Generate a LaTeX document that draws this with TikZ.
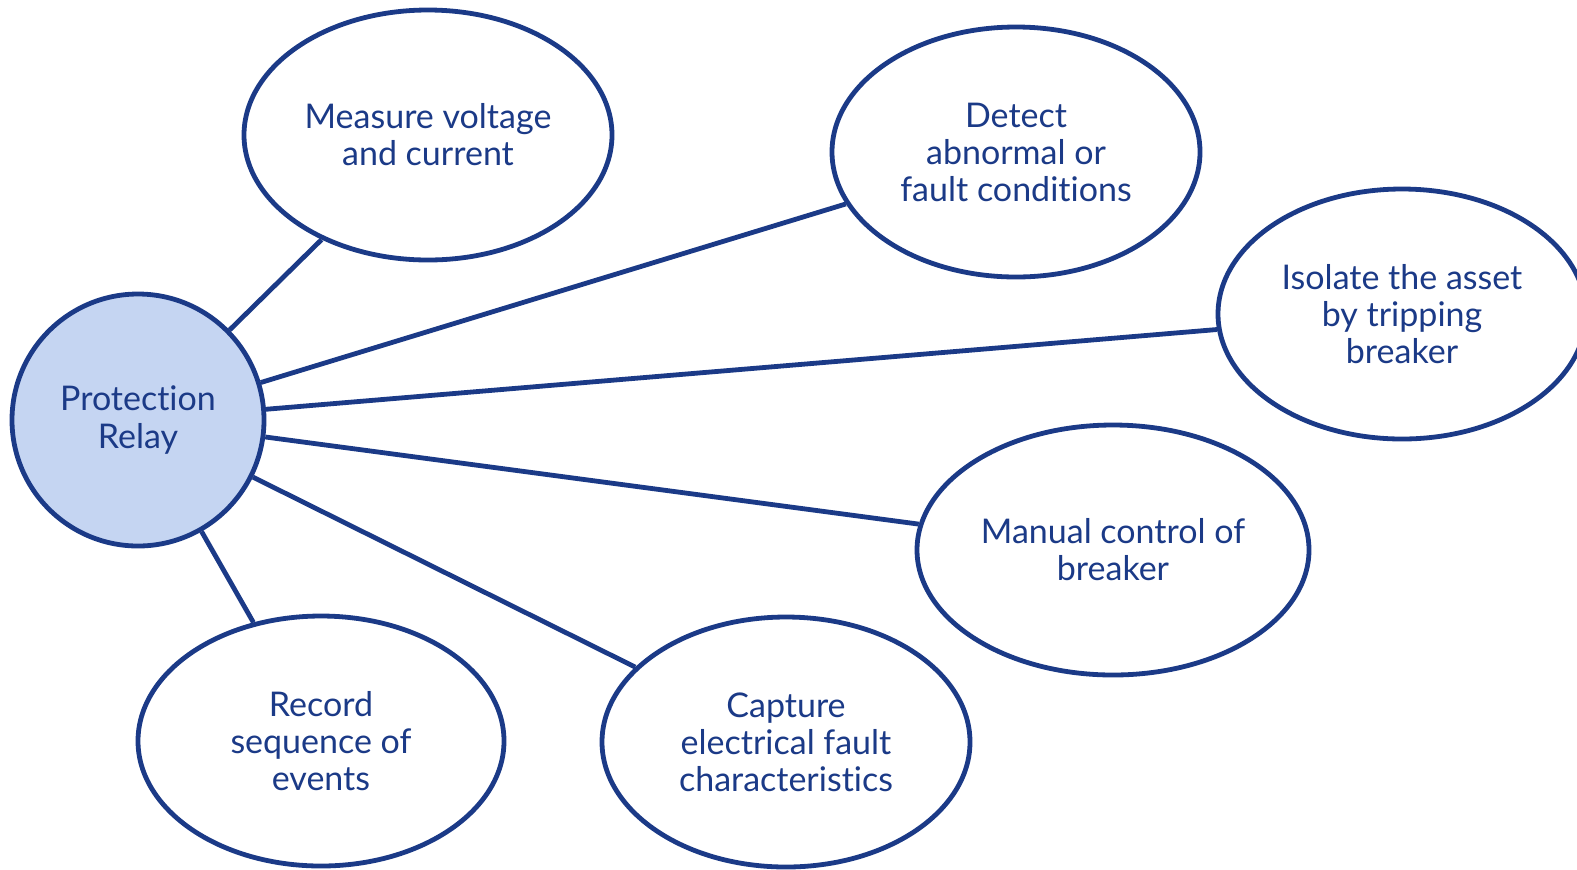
\documentclass[tikz,border=0pt]{standalone}
\usepackage{fontspec}
\setmainfont{Lato}[Ligatures=NoCommon]
\usetikzlibrary{shapes.geometric}
\definecolor{gedark}{HTML}{1B3A87}
\definecolor{gefill}{HTML}{C5D5F2}
\tikzset{
  topic/.style={ellipse, draw=gedark, line width=2.4pt, fill=white, inner sep=0pt,
    text=gedark, align=center, font=\fontsize{17}{18.5}\selectfont},
  hub/.style={circle, draw=gedark, line width=2.4pt, fill=gefill, inner sep=0pt,
    minimum size=126pt, text=gedark, align=center, font=\fontsize{17}{18.5}\selectfont},
  link/.style={draw=gedark, line width=2.4pt}
}
\begin{document}
\begin{tikzpicture}[x=0.5pt,y=-0.5pt]
\useasboundingbox (0,0) rectangle (1577,869);
\node[hub] (pr) at (138,420) {Protection\\Relay};
\node[topic, minimum width=184pt, minimum height=125pt] (mv) at (428,135) {Measure voltage\\and current};
\node[topic, minimum width=184pt, minimum height=125pt] (dt) at (1016,152) {Detect\\abnormal or\\fault conditions};
\node[topic, minimum width=184pt, minimum height=125pt] (is) at (1402,314) {Isolate the asset\\by tripping\\breaker};
\node[topic, minimum width=196pt, minimum height=125pt] (mc) at (1113,550) {Manual control of\\breaker};
\node[topic, minimum width=184pt, minimum height=125pt] (cf) at (786,742) {Capture\\electrical fault\\characteristics};
\node[topic, minimum width=183pt, minimum height=125pt] (rs) at (321,741) {Record\\sequence of\\events};
\draw[link] (pr) -- (mv);
\draw[link] (pr) -- (dt);
\draw[link] (pr) -- (is);
\draw[link] (pr) -- (mc);
\draw[link] (pr) -- (cf);
\draw[link] (pr) -- (rs);
\end{tikzpicture}
\end{document}
